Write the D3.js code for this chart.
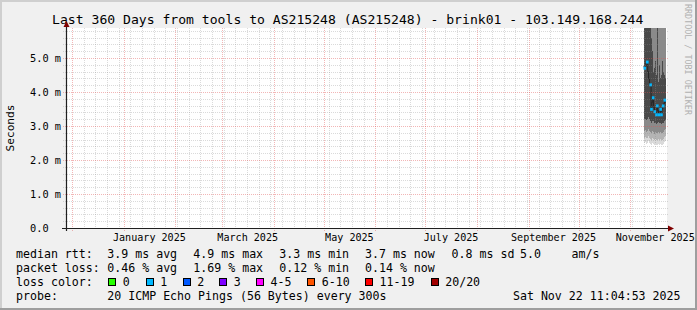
<!DOCTYPE html>
<html><head><meta charset="utf-8">
<script src="https://cdn.jsdelivr.net/npm/d3@7"></script>
<style>
html,body{margin:0;padding:0;background:#f0f0f0}
svg{display:block}
text{font-family:"DejaVu Sans Mono",monospace;white-space:pre}
</style>
</head><body><svg id="c" width="697" height="310"></svg>
<script>
// ---------------- data ----------------
const title = "Last 360 Days from tools to AS215248 (AS215248) - brink01 - 103.149.168.244";
const endTime = "2025-11-22T11:04:53Z";
const spanDays = 360;
const yMaxMs = 5.882;

const times = [
  "2025-11-09T00:00Z","2025-11-09T12:00Z","2025-11-10T00:00Z","2025-11-10T12:00Z",
  "2025-11-11T00:00Z","2025-11-11T12:00Z","2025-11-12T00:00Z","2025-11-12T12:00Z",
  "2025-11-13T00:00Z","2025-11-13T12:00Z","2025-11-14T00:00Z","2025-11-14T12:00Z",
  "2025-11-15T00:00Z","2025-11-15T12:00Z","2025-11-16T00:00Z","2025-11-16T12:00Z",
  "2025-11-17T00:00Z","2025-11-17T12:00Z","2025-11-18T00:00Z","2025-11-18T12:00Z",
  "2025-11-19T00:00Z","2025-11-19T12:00Z","2025-11-20T00:00Z","2025-11-20T12:00Z",
  "2025-11-21T00:00Z","2025-11-21T12:00Z","2025-11-22T00:00Z"
];
// median rtt (ms)
const median = [4.75,4.70,4.75,4.85,4.88,4.60,4.40,4.25,4.21,3.49,3.70,3.83,3.55,3.42,
                3.40,3.33,3.59,3.45,3.33,3.40,3.49,3.33,3.50,3.59,3.65,3.76,3.70];
// lost pings (of 20) per period
const lost = [0,1,0,0,1,0,0,0,1,1,0,1,0,1,0,1,1,0,1,0,1,1,0,1,0,1,0];
// smoke bands (ms), outermost to innermost
const smokeMin    = [2.55,2.50,2.52,2.48,2.50,2.55,2.52,2.50,2.47,2.45,2.50,2.48,2.45,2.44,
                     2.46,2.43,2.45,2.48,2.42,2.44,2.46,2.43,2.45,2.47,2.50,2.52,2.55];
const smokeLow1   = [2.70,2.66,2.68,2.64,2.66,2.70,2.67,2.65,2.62,2.60,2.65,2.63,2.60,2.58,
                     2.61,2.58,2.60,2.63,2.57,2.59,2.61,2.58,2.60,2.62,2.65,2.67,2.70];
const smokeLow2   = [2.90,2.85,2.87,2.83,2.85,2.91,2.87,2.85,2.81,2.79,2.85,2.83,2.80,2.77,
                     2.81,2.78,2.80,2.83,2.77,2.79,2.81,2.78,2.80,2.82,2.85,2.87,2.90];
const smokeCoreLo = [3.25,3.20,3.22,3.18,3.20,3.26,3.22,3.20,3.16,3.10,3.15,3.14,3.10,3.08,
                     3.10,3.06,3.10,3.12,3.06,3.08,3.10,3.06,3.08,3.10,3.12,3.15,3.18];
const smokeCoreHi = [7.5,7.5,7.5,7.5,7.5,7.5,7.5,7.5,7.5,5.6,5.2,4.6,4.4,4.7,
                     4.9,4.5,6.5,4.3,4.6,4.8,4.4,4.5,4.9,4.6,4.8,4.5,4.4];
const smokeHigh2  = [9,9,9,9,9,9,9,9,9,8,8,8,8,8,8,8,8,8,8,8,8,8,8,8,8,8,8];
const smokeHigh1  = [10,10,10,10,10,10,10,10,10,10,10,10,10,10,10,10,10,10,10,10,10,10,10,10,10,10,10];
const smokeMax    = [12,12,12,12,12,12,12,12,12,12,12,12,12,12,12,12,12,12,12,12,12,12,12,12,12,12,12];

const yTickValues = [0,1,2,3,4,5];
const yTickLabels = ["0.0  ","1.0 m","2.0 m","3.0 m","4.0 m","5.0 m"];

const lossLabels = ["0","1","2","3","4-5","6-10","11-19","20/20"];
const lossColors = ["#26ff00","#00b8ff","#0059ff","#7e00ff","#ff00ff","#ff5500","#ff0000","#a10000"];

const rttStats  = ["3.9 ms avg","4.9 ms max","3.3 ms min","3.7 ms now","0.8 ms sd","5.0","am/s"];
const lossStats = ["0.46 % avg","1.69 % max","0.12 % min","0.14 % now"];
const probeText = "20 ICMP Echo Pings (56 Bytes) every 300s";
const stamp = "Sat Nov 22 11:04:53 2025";

// ---------------- layout ----------------
const W = 697, H = 310;
const L = 66, R = 666, T = 28, B = 228;
const svg = d3.select("#c");

const end = new Date(endTime);
const start = new Date(end.getTime() - spanDays*864e5);
const x = d3.scaleUtc().domain([start, end]).range([L, R]);
const y = d3.scaleLinear().domain([0, yMaxMs]).range([B, T]);

// background + border
svg.append("rect").attr("width",W).attr("height",H).attr("fill","#f0f0f0");
svg.append("path").attr("d",`M0,0H${W}V2H2V${H}H0Z`).attr("fill","#cfcfcf");
svg.append("path").attr("d",`M${W},${H}H0V${H-2}H${W-2}V0H${W}Z`).attr("fill","#9e9e9e");
svg.append("rect").attr("x",L).attr("y",T).attr("width",R-L+1).attr("height",B-T).attr("fill","#ffffff");

// title
svg.append("text").attr("x",347.7).attr("y",24.3).attr("text-anchor","middle")
  .attr("font-size","13.1px").attr("fill","#000").text(title);

// clip for data
svg.append("clipPath").attr("id","plotclip").append("rect")
  .attr("x",L).attr("y",T).attr("width",R-L+1).attr("height",B-T);
const gData = svg.append("g").attr("clip-path","url(#plotclip)");

const tms = times.map(s => new Date(s));
const nextT = i => (i+1 < tms.length ? tms[i+1] : end);

const bands = [
  [smokeMin, smokeMax, "#dadada"],
  [smokeLow1, smokeHigh1, "#b4b4b4"],
  [smokeLow2, smokeHigh2, "#8a8a8a"],
  [smokeCoreLo, smokeCoreHi, "#494949"]
];
bands.forEach(([lo, hi, col]) => {
  gData.append("g").selectAll("rect").data(tms).join("rect")
    .attr("x", d => x(d))
    .attr("width", (d,i) => x(nextT(i)) - x(d) + 0.05)
    .attr("y", (d,i) => y(hi[i]))
    .attr("height", (d,i) => y(lo[i]) - y(hi[i]))
    .attr("fill", col).attr("shape-rendering","crispEdges");
});

// median line (dark)
const stepPts = [];
tms.forEach((d,i) => { stepPts.push([x(d), y(median[i])]); stepPts.push([x(nextT(i)), y(median[i])]); });
gData.append("path").attr("d", d3.line()(stepPts)).attr("fill","none")
  .attr("stroke","#252525").attr("stroke-width",1);

// loss-coloured median points
function lossColor(n){
  if (n <= 0) return lossColors[0];
  if (n <= 1) return lossColors[1];
  if (n <= 2) return lossColors[2];
  if (n <= 3) return lossColors[3];
  if (n <= 5) return lossColors[4];
  if (n <= 10) return lossColors[5];
  if (n <= 19) return lossColors[6];
  return lossColors[7];
}
gData.append("g").selectAll("rect").data(tms.map((d,i)=>({d,i})).filter(o => lost[o.i] > 0)).join("rect")
  .attr("x", o => (x(o.d)+x(nextT(o.i)))/2 - 1.3)
  .attr("y", o => y(median[o.i]) - 1.5)
  .attr("width", 2.6).attr("height", 3)
  .attr("fill", o => lossColor(lost[o.i]));

// grid (on top)
const gGrid = svg.append("g").attr("shape-rendering","crispEdges");
const minorCol = "rgba(140,140,140,0.32)";
const majorCol = "rgba(225,80,80,0.42)";
const weeks = d3.utcSunday.range(start, end);
const months = d3.utcMonth.range(start, end);
gGrid.selectAll(".vmin").data(weeks.filter(w => w.getUTCDate() !== 1)).join("line")
  .attr("x1", d => Math.round(x(d))+0.5).attr("x2", d => Math.round(x(d))+0.5)
  .attr("y1", T).attr("y2", B+2)
  .attr("stroke", minorCol).attr("stroke-dasharray","1,1");
const yMinor = y.ticks(30).filter(v => Math.abs(v - Math.round(v)) > 1e-6);
gGrid.selectAll(".hmin").data(yMinor).join("line")
  .attr("x1", L-3).attr("x2", R+3)
  .attr("y1", d => Math.round(y(d))+0.5).attr("y2", d => Math.round(y(d))+0.5)
  .attr("stroke", minorCol).attr("stroke-dasharray","1,1");
gGrid.selectAll(".vmaj").data(months).join("line")
  .attr("x1", d => Math.round(x(d))+0.5).attr("x2", d => Math.round(x(d))+0.5)
  .attr("y1", T).attr("y2", B+3)
  .attr("stroke", majorCol).attr("stroke-dasharray","1,1");
gGrid.selectAll(".hmaj").data(yTickValues.filter(v => v > 0)).join("line")
  .attr("x1", L-3).attr("x2", R+3)
  .attr("y1", d => Math.round(y(d))+0.5).attr("y2", d => Math.round(y(d))+0.5)
  .attr("stroke", majorCol).attr("stroke-dasharray","1,1");

// axes
const axisCol = "#1f1f1f", arrowCol = "#7f0000";
svg.append("line").attr("x1",L-4).attr("x2",R+4).attr("y1",B+0.5).attr("y2",B+0.5)
  .attr("stroke",axisCol).attr("stroke-width",1.2);
svg.append("line").attr("x1",L+0.5).attr("x2",L+0.5).attr("y1",B+3).attr("y2",T-3)
  .attr("stroke",axisCol).attr("stroke-width",1.2);
svg.append("path").attr("d",`M${R+2},${B-2.5}L${R+8},${B+0.5}L${R+2},${B+3.5}Z`).attr("fill",arrowCol);
svg.append("path").attr("d",`M${L-2.5},${T-1}L${L+0.5},${T-7}L${L+3.5},${T-1}Z`).attr("fill",arrowCol);

// y labels
svg.append("g").selectAll("text").data(yTickValues).join("text")
  .attr("x", 61).attr("y", d => y(d) + 3.6).attr("text-anchor","end")
  .attr("font-size","10.3px").attr("fill","#000")
  .text((d,i) => yTickLabels[i]);

// x labels, centred on each labelled month
const labelMonths = d3.utcMonth.every(2).range(start, end);
const fmt = d3.utcFormat("%B %Y");
svg.append("g").selectAll("text").data(labelMonths).join("text")
  .attr("x", d => (x(d) + x(d3.utcMonth.offset(d,1)))/2)
  .attr("y", 241).attr("text-anchor","middle")
  .attr("font-size","10.1px").attr("fill","#000")
  .text(d => fmt(d));

// unit label
svg.append("text").attr("transform","translate(14.3,128) rotate(-90)")
  .attr("text-anchor","middle").attr("font-size","11.2px").attr("fill","#000").text("Seconds");

// watermark
svg.append("text").attr("transform","translate(685.2,4) rotate(90)")
  .attr("font-size","8.4px").attr("fill","#b0b0b0").text("RRDTOOL / TOBI OETIKER");

// legend
const LF = "11.6px";
const rowY = [258, 272, 286, 300];
const colX = [107.3, 193.3, 279.3, 365, 451.6, 520, 571.6];
const leg = svg.append("g").attr("font-size", LF).attr("fill","#000");
leg.append("text").attr("x",16).attr("y",rowY[0]).text("median rtt:");
rttStats.forEach((s,i) => leg.append("text").attr("x",colX[i]).attr("y",rowY[0]).text(s));
leg.append("text").attr("x",16).attr("y",rowY[1]).text("packet loss:");
lossStats.forEach((s,i) => leg.append("text").attr("x",colX[i]).attr("y",rowY[1]).text(s));
leg.append("text").attr("x",16).attr("y",rowY[2]).text("loss color:");
const swX = [108.3,145.7,182.7,219.3,256,307.3,365,430.7];
lossLabels.forEach((s,i) => {
  leg.append("rect").attr("x",swX[i]+0.5).attr("y",278.5).attr("width",7).attr("height",7)
    .attr("fill",lossColors[i]).attr("stroke","#000").attr("stroke-width",1)
    .attr("shape-rendering","crispEdges");
  leg.append("text").attr("x",swX[i]+14.5).attr("y",rowY[2]).text(s);
});
leg.append("text").attr("x",16).attr("y",rowY[3]).text("probe:");
leg.append("text").attr("x",107.3).attr("y",rowY[3]).text(probeText);
leg.append("text").attr("x",680.5).attr("y",rowY[3]).attr("text-anchor","end").text(stamp);
</script>
</body></html>
